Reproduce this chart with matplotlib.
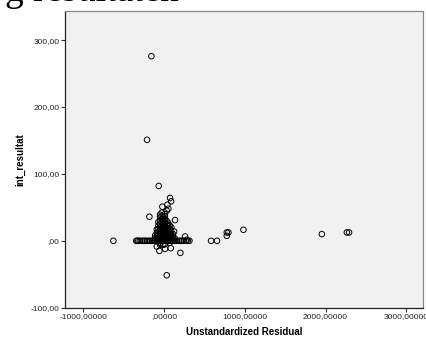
import matplotlib
matplotlib.use('Agg')
import matplotlib.pyplot as plt
from matplotlib.ticker import FuncFormatter

# scattered points (x = unstandardized residual, y = int_resultat)
outer_x = [-157, -211, -66, 74, 87, -21, 41, 53, 33, -182, 136, 124, 260, 281, 314,
           -58, 12, 83, 202, -50, -90, 33, 777, 797, 777, 983, 1954, 2264, 2291,
           -628, 582, 656]
outer_y = [276, 151, 82, 64, 59, 51, 54, 48, 45, 36, 31, 14, 6.5, 1.5, 0,
           -15, -12, -11, -18, -6, -8.5, -51.5, 12.5, 12.5, 7.5, 16.5, 10, 12.5, 12.5,
           0, 0, 0]

# points lying on the zero line
zero_x = [-345, -330, -318, -300, -275, -255, -235, -215, -190, -170, -150, -135,
          140, 160, 185, 205, 225, 245, 270, 295]

# dense cluster near the origin, one list of y values per x column
core_cols = [-110, -90, -70, -50, -30, -10, 10, 30, 50, 70, 90, 110, 130]
core_vals = [
    [0, 4, 8],
    [0, 3, 7, 12, 17],
    [0, 4, 8, 13, 18, 23, 28],
    [0, 4, 8, 12, 16, 20, 25, 30, 35, 39, -4],
    [0, 3, 6, 10, 14, 18, 22, 27, 32, 37, 42],
    [0, 3, 6, 9, 13, 17, 21, 25, 30, 35, -6],
    [0, 3, 6, 10, 14, 18, 22, 26, 31, 36, 40, -5],
    [0, 4, 8, 12, 16, 20, 25, 30],
    [0, 4, 8, 12, 17, 22, 27],
    [0, 4, 8, 13, 18, 23, -3],
    [0, 4, 9, 14, 20],
    [0, 5, 10],
    [0, 4],
]

core_x = []
core_y = []
for cx, vals in zip(core_cols, core_vals):
    for v in vals:
        core_x.append(cx)
        core_y.append(v)

xs = outer_x + zero_x + core_x
ys = outer_y + [0] * len(zero_x) + core_y

fig = plt.figure(figsize=(4.27, 3.40), dpi=100)
ax = fig.add_axes([65 / 427, 1 - 307.7 / 340, 358 / 427, 297 / 340])
ax.set_facecolor('#f0f0f0')

ax.scatter(xs, ys, s=16, facecolors='none', edgecolors='black', linewidths=0.7)

ax.set_xlim(-1227, 3207)
ax.set_ylim(-100, 344)
ax.set_xticks([-1000, 0, 1000, 2000, 3000])
ax.set_yticks([-100, 0, 100, 200, 300])


def fmt_x(v, pos):
    s = '%.5f' % v
    s = s.replace('.', ',')
    if s.startswith('0,'):
        s = s[1:]
    return s


def fmt_y(v, pos):
    s = '%.2f' % v
    s = s.replace('.', ',')
    if s.startswith('0,'):
        s = s[1:]
    return s


ax.xaxis.set_major_formatter(FuncFormatter(fmt_x))
ax.yaxis.set_major_formatter(FuncFormatter(fmt_y))

tick_font = 'Liberation Sans'
ax.tick_params(axis='both', direction='out', length=3, width=0.8, pad=1,
               labelsize=6, labelcolor='#222222', colors='#333333')
for lab in ax.get_xticklabels() + ax.get_yticklabels():
    lab.set_family(tick_font)

for side in ['top', 'right']:
    ax.spines[side].set_color('#8a8a8a')
for side in ['left', 'bottom']:
    ax.spines[side].set_color('#222222')
for sp in ax.spines.values():
    sp.set_linewidth(0.9)

ax.set_xlabel('Unstandardized Residual', fontsize=7, fontweight='bold',
              family=tick_font, labelpad=5)
ax.set_ylabel('int_resultat', fontsize=7, fontweight='bold',
              family=tick_font, labelpad=4)

# cropped title left over at the top of the screenshot
fig.text(5 / 427, 1 - 1.0 / 340, 'g resultaten', family='Liberation Serif',
         fontsize=27, ha='left', va='baseline', color='black')

fig.savefig('out.png', dpi=100)
